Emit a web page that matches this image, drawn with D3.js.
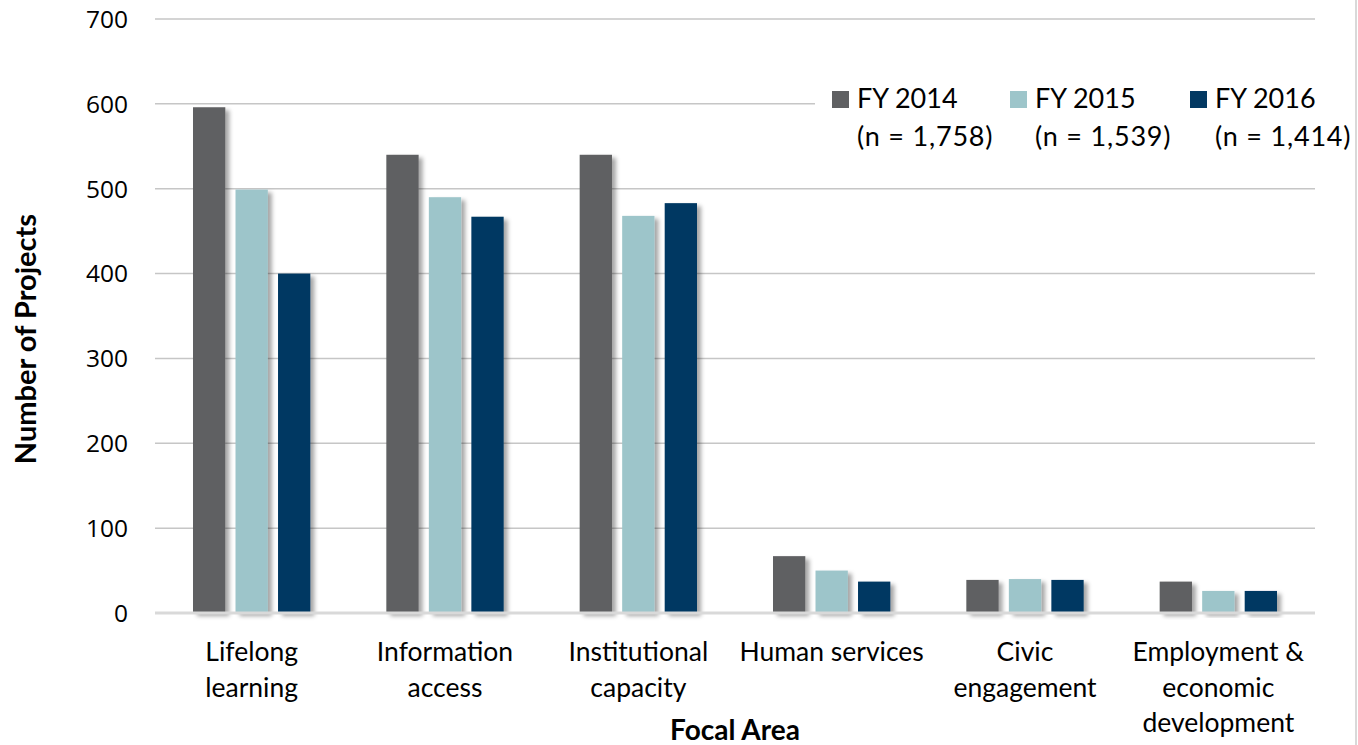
<!DOCTYPE html>
<html>
<head>
<meta charset="utf-8">
<script src="https://cdn.jsdelivr.net/npm/d3@7"></script>
<style>
body { margin: 0; background: #fff; }
svg { display: block; }
</style>
</head>
<body>
<div id="chart"></div>
<script>
// focal areas and project counts per fiscal year
var categories = [
	["Lifelong", "learning"],
	["Information", "access"],
	["Institutional", "capacity"],
	["Human services"],
	["Civic", "engagement"],
	["Employment &", "economic", "development"]
];
var seriesNames = ["FY 2014", "FY 2015", "FY 2016"];
var seriesN = ["(n = 1,758)", "(n = 1,539)", "(n = 1,414)"];
var fy2014 = [596, 540, 540, 67, 39, 37];
var fy2015 = [499, 490, 468, 50, 40, 26];
var fy2016 = [400, 467, 483, 37, 39, 26];
var yTicks = [0, 100, 200, 300, 400, 500, 600, 700];

var colors = ["#5f6062", "#9dc5ca", "#033962"];
var seriesVals = [fy2014, fy2015, fy2016];

var width = 1358, height = 745;
var margin = {top: 19, right: 43, bottom: 132, left: 155};
var w = width - margin.left - margin.right,
	h = height - margin.top - margin.bottom;

var svg = d3.select("#chart").append("svg")
	.attr("width", width)
	.attr("height", height);

var defs = svg.append("defs");
var shadow = defs.append("filter")
	.attr("id", "shadow")
	.attr("x", "-20%").attr("y", "-20%")
	.attr("width", "160%").attr("height", "140%");
shadow.append("feDropShadow")
	.attr("dx", 4).attr("dy", 3)
	.attr("stdDeviation", 2.2)
	.attr("flood-color", "#000")
	.attr("flood-opacity", 0.35);

var g = svg.append("g")
	.attr("transform", "translate(" + margin.left + "," + margin.top + ")");

var x0 = d3.scaleBand()
	.domain(d3.range(categories.length))
	.range([0, w])
	.paddingInner(0)
	.paddingOuter(0);

var x1 = d3.scaleBand()
	.domain(d3.range(seriesNames.length))
	.range([38, x0.bandwidth() - 38])
	.paddingInner(0.24)
	.paddingOuter(0);

var y = d3.scaleLinear()
	.domain([0, 700])
	.range([h, 0]);

// gridlines
g.selectAll(".grid")
	.data(yTicks.filter(function(d){ return d > 0; }))
  .enter().append("line")
	.attr("class", "grid")
	.attr("x1", 0).attr("x2", w)
	.attr("y1", function(d){ return y(d); })
	.attr("y2", function(d){ return y(d); })
	.attr("stroke", "#c6c6c6")
	.attr("stroke-width", 1.5);

// tick labels
g.selectAll(".ytick")
	.data(yTicks)
  .enter().append("text")
	.attr("class", "ytick")
	.attr("x", -27)
	.attr("y", function(d){ return y(d); })
	.attr("dy", "0.36em")
	.attr("text-anchor", "end")
	.style("font-family", "Open Sans")
	.style("font-size", "24.5px")
	.style("fill", "#000")
	.text(function(d){ return d; });

// bars
var groups = g.selectAll(".cat")
	.data(categories)
  .enter().append("g")
	.attr("class", "cat")
	.attr("transform", function(d, i){ return "translate(" + x0(i) + ",0)"; });

groups.selectAll("rect")
	.data(function(d, i){ return seriesVals.map(function(s, j){ return {s: j, v: s[i]}; }); })
  .enter().append("rect")
	.attr("x", function(d){ return x1(d.s); })
	.attr("width", x1.bandwidth())
	.attr("y", function(d){ return y(d.v); })
	.attr("height", function(d){ return h - y(d.v); })
	.attr("fill", function(d){ return colors[d.s]; })
	.attr("filter", "url(#shadow)");

// baseline
g.append("line")
	.attr("x1", 0).attr("x2", w)
	.attr("y1", h).attr("y2", h)
	.attr("stroke", "#d9d9d9")
	.attr("stroke-width", 3);

// category labels
var labels = g.selectAll(".xlab")
	.data(categories)
  .enter().append("text")
	.attr("class", "xlab")
	.attr("x", function(d, i){ return x0(i) + x0.bandwidth() / 2; })
	.attr("y", h + 48)
	.attr("text-anchor", "middle")
	.style("font-family", "Lato")
	.style("font-size", "26.5px")
	.style("fill", "#000");
labels.selectAll("tspan")
	.data(function(d){ return d; })
  .enter().append("tspan")
	.attr("x", function(){ return d3.select(this.parentNode).attr("x"); })
	.attr("dy", function(d, i){ return i === 0 ? 0 : 35.5; })
	.text(function(d){ return d; });

// axis titles
svg.append("text")
	.attr("transform", "translate(36," + (margin.top + h / 2 + 23) + ") rotate(-90)")
	.attr("text-anchor", "middle")
	.style("font-family", "Lato")
	.style("font-weight", "bold")
	.style("font-size", "29px")
	.text("Number of Projects");

svg.append("text")
	.attr("x", 735)
	.attr("y", 740)
	.attr("text-anchor", "middle")
	.style("font-family", "Lato")
	.style("font-weight", "bold")
	.style("font-size", "28px")
	.text("Focal Area");

// legend
var legend = svg.append("g");
legend.append("rect")
	.attr("x", 815).attr("y", 80)
	.attr("width", 540).attr("height", 80)
	.attr("fill", "#fff");
var legX = [832, 1010, 1190];
var items = legend.selectAll(".leg")
	.data(seriesNames)
  .enter().append("g")
	.attr("class", "leg")
	.attr("transform", function(d, i){ return "translate(" + legX[i] + ",0)"; });
items.append("rect")
	.attr("x", 0).attr("y", 91)
	.attr("width", 17).attr("height", 17)
	.attr("fill", function(d, i){ return colors[i]; });
items.append("text")
	.attr("x", 25).attr("y", 108)
	.style("font-family", "Lato")
	.style("font-size", "27px")
	.text(function(d){ return d; });
items.append("text")
	.attr("x", 25).attr("y", 146)
	.style("font-family", "Lato")
	.style("font-size", "27px")
	.style("letter-spacing", "0.8px")
	.text(function(d, i){ return seriesN[i]; });

// outer frame edge at right
svg.append("line")
	.attr("x1", 1356).attr("x2", 1356)
	.attr("y1", 0).attr("y2", height)
	.attr("stroke", "#d9d9d9")
	.attr("stroke-width", 2);
</script>
</body>
</html>
